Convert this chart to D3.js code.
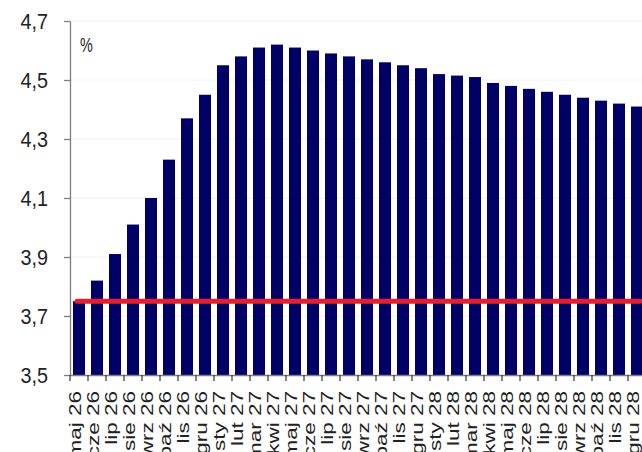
<!DOCTYPE html>
<html>
<head>
<meta charset="utf-8">
<script src="https://cdn.jsdelivr.net/npm/d3@7/dist/d3.min.js"></script>
<style>
  html, body { margin: 0; padding: 0; background: #fff; }
  svg { display: block; font-family: "Liberation Sans", Arial, sans-serif; }
</style>
</head>
<body>
<svg id="chart" width="642" height="452"></svg>
<script>
// Monthly path of the rate (%), May 2026 – December 2028
const months = [
  "maj 26", "cze 26", "lip 26", "sie 26", "wrz 26", "paź 26", "lis 26", "gru 26",
  "sty 27", "lut 27", "mar 27", "kwi 27", "maj 27", "cze 27", "lip 27", "sie 27",
  "wrz 27", "paź 27", "lis 27", "gru 27", "sty 28", "lut 28", "mar 28", "kwi 28",
  "maj 28", "cze 28", "lip 28", "sie 28", "wrz 28", "paź 28", "lis 28", "gru 28"
];
const rates = [
  3.75, 3.82, 3.91, 4.01, 4.10, 4.23, 4.37, 4.45,
  4.55, 4.58, 4.61, 4.62, 4.61, 4.60, 4.59, 4.58,
  4.57, 4.56, 4.55, 4.54, 4.52, 4.515, 4.51, 4.49,
  4.48, 4.47, 4.46, 4.45, 4.44, 4.43, 4.42, 4.41
];
const referenceRate = 3.75;
const yTicks = [3.5, 3.7, 3.9, 4.1, 4.3, 4.5, 4.7];
const unitLabel = "%";

const svg = d3.select("#chart");
const plotLeft = 70, plotRight = 646, plotTop = 21, plotBottom = 375;

const x = d3.scaleBand()
  .domain(months)
  .range([plotLeft, plotRight])
  .paddingInner(1 / 3)
  .paddingOuter(1 / 6);

const y = d3.scaleLinear()
  .domain([3.5, 4.7])
  .range([plotBottom, plotTop]);

const fmt = d => d.toFixed(1).replace(".", ",");

// faint horizontal gridlines
svg.append("g")
  .selectAll("line")
  .data(yTicks.slice(1))
  .join("line")
  .attr("x1", plotLeft).attr("x2", 642)
  .attr("y1", d => y(d)).attr("y2", d => y(d))
  .attr("stroke", "#efefef")
  .attr("stroke-width", 1);

// bars
svg.append("g")
  .selectAll("rect")
  .data(months)
  .join("rect")
  .attr("x", d => x(d))
  .attr("width", x.bandwidth())
  .attr("y", (d, i) => y(rates[i]))
  .attr("height", (d, i) => y(3.5) - y(rates[i]))
  .attr("fill", "#000066");

// reference line
const lineStart = x(months[0]) + x.bandwidth() / 2 - 2;
const lineEnd = x(months[months.length - 1]) + x.bandwidth() / 2 + 3;
svg.append("line")
  .attr("x1", lineStart).attr("x2", lineEnd)
  .attr("y1", y(referenceRate)).attr("y2", y(referenceRate))
  .attr("stroke", "#e3202f")
  .attr("stroke-width", 5)
  .attr("stroke-linecap", "round");

// y axis
const yAxis = svg.append("g")
  .attr("transform", `translate(${plotLeft},0)`)
  .call(d3.axisLeft(y).tickValues(yTicks).tickFormat(fmt).tickSize(6).tickSizeOuter(0));
yAxis.select(".domain").attr("stroke", "#7f7f7f").attr("stroke-width", 1.3);
yAxis.selectAll(".tick line").attr("stroke", "#7f7f7f").attr("stroke-width", 1.3);
yAxis.selectAll(".tick text")
  .attr("x", 0)
  .attr("dy", "0.36em")
  .attr("transform", "translate(-22,0) scale(0.9,1)")
  .attr("font-size", 22)
  .attr("fill", "#222")
  .attr("font-family", "Liberation Sans, Arial, sans-serif");

// x axis
const labelStretch = 1.31;
const xAxis = svg.append("g")
  .attr("transform", `translate(0,${plotBottom})`)
  .call(d3.axisBottom(x).tickSize(0).tickSizeOuter(0));
xAxis.select(".domain").attr("stroke", "#7f7f7f").attr("stroke-width", 1.3);
xAxis.selectAll(".tick text")
  .attr("transform", `rotate(-90) scale(${labelStretch},1)`)
  .attr("text-anchor", "end")
  .attr("x", -16 / labelStretch)
  .attr("y", 0)
  .attr("dy", 2)
  .attr("font-size", 17.2)
  .attr("fill", "#222")
  .attr("font-family", "Liberation Sans, Arial, sans-serif");

// tick marks at category boundaries
const step = x.step();
const boundaries = months.map(d => x(d) - (step - x.bandwidth()) / 2);
svg.append("g")
  .selectAll("line")
  .data(boundaries)
  .join("line")
  .attr("x1", d => d).attr("x2", d => d)
  .attr("y1", plotBottom).attr("y2", plotBottom + 6)
  .attr("stroke", "#333")
  .attr("stroke-width", 1.2);

// unit label
svg.append("text")
  .attr("transform", `translate(${plotLeft + 10},52) scale(0.72,1)`)
  .attr("font-size", 20)
  .attr("fill", "#222")
  .text(unitLabel);
</script>
</body>
</html>
